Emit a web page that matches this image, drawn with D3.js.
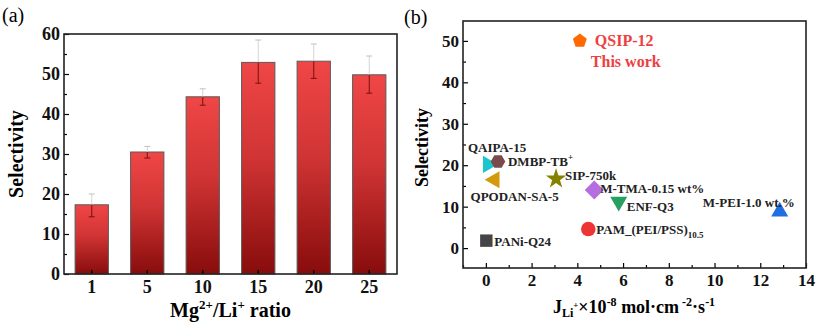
<!DOCTYPE html>
<html>
<head>
<meta charset="utf-8">
<script src="https://cdn.jsdelivr.net/npm/d3@7"></script>
<style>
  body { margin: 0; background: #fff; }
  svg text { font-family: "Liberation Serif", "Times New Roman", serif; }
</style>
</head>
<body>
<div id="chart"></div>
<script>
// ---- data, panel (a)
var ratios = ["1", "5", "10", "15", "20", "25"];
var selectivity = [17.3, 30.5, 44.3, 52.9, 53.2, 49.8];
var errLow = [14.3, 29.0, 42.2, 47.7, 48.9, 45.2];
var errHigh = [20.0, 31.9, 46.3, 58.5, 57.5, 54.5];
var aTicks = [0, 10, 20, 30, 40, 50, 60];

// ---- data, panel (b)
var membranes = ["QSIP-12", "QAIPA-15", "DMBP-TB+", "QPODAN-SA-5", "SIP-750k",
                 "M-TMA-0.15 wt%", "ENF-Q3", "M-PEI-1.0 wt.%", "PAM_(PEI/PSS)10.5", "PANi-Q24"];
var fluxLi = [4.11, 0.09, 0.53, 0.38, 3.07, 4.74, 5.81, 12.85, 4.48, 0.02];
var memSel = [50.0, 20.2, 20.9, 16.5, 16.7, 14.0, 11.2, 8.8, 4.6, 1.8];
var bXTicks = [0, 2, 4, 6, 8, 10, 12, 14];
var bYTicks = [0, 10, 20, 30, 40, 50];

// marker styles and label offsets (layout only)
var markerShape = ["pentagon", "triRight", "hexagon", "triLeft", "star", "diamond", "triDown", "triUp", "circle", "square"];
var markerColor = ["#ff6a00", "#1cc6cc", "#7b4a4a", "#d29a0c", "#858200", "#b46ee0", "#26a060", "#1f6fe0", "#ee3535", "#454545"];
var labelDx = [15, -20, 10, -24, 9, 6, 8, -77, 8, 8];
var labelDy = [5, -12, 5, 21, 1, 3, 9, -5, 5, 5];

var svg = d3.select("#chart").append("svg")
    .attr("width", 818).attr("height", 328);

var defs = svg.append("defs");
var grad = defs.append("linearGradient").attr("id", "barGrad")
    .attr("x1", 0).attr("y1", 0).attr("x2", 0).attr("y2", 1);
grad.append("stop").attr("offset", "0%").attr("stop-color", "#f04646");
grad.append("stop").attr("offset", "45%").attr("stop-color", "#d03434");
grad.append("stop").attr("offset", "100%").attr("stop-color", "#880c0c");

drawPanelA();
drawPanelB();

function drawPanelA()
{
    var L = 64, R = 397, T = 34, B = 274;

    var x = d3.scaleBand().domain(ratios).range([L, R]).padding(0);
    var y = d3.scaleLinear().domain([0, 60]).range([B, T]);
    var bw = x.bandwidth() * 0.6;

    var g = svg.append("g");

    g.selectAll(".bar")
      .data(ratios)
      .enter().append("rect")
      .attr("class", "bar")
      .attr("x", function(d) { return x(d) + (x.bandwidth() - bw) / 2; })
      .attr("y", function(d, i) { return y(selectivity[i]); })
      .attr("width", bw)
      .attr("height", function(d, i) { return B - y(selectivity[i]); })
      .attr("fill", "url(#barGrad)")
      .attr("stroke", "#5a5a5a")
      .attr("stroke-width", 1);

    // error bars: faint above the bar, dark red inside it
    ratios.forEach(function(d, i) {
        var cx = x(d) + x.bandwidth() / 2;
        g.append("line")
          .attr("x1", cx).attr("x2", cx)
          .attr("y1", y(errHigh[i])).attr("y2", y(selectivity[i]))
          .attr("stroke", "#d4d4d4").attr("stroke-width", 1);
        g.append("line")
          .attr("x1", cx).attr("x2", cx)
          .attr("y1", y(selectivity[i])).attr("y2", y(errLow[i]))
          .attr("stroke", "#7a1010").attr("stroke-width", 1);
        g.append("line")
          .attr("x1", cx - 3).attr("x2", cx + 3)
          .attr("y1", y(errHigh[i])).attr("y2", y(errHigh[i]))
          .attr("stroke", "#c0c0c0").attr("stroke-width", 1);
        g.append("line")
          .attr("x1", cx - 3).attr("x2", cx + 3)
          .attr("y1", y(errLow[i])).attr("y2", y(errLow[i]))
          .attr("stroke", "#7a1010").attr("stroke-width", 1);
    });

    // minor y ticks
    g.append("g")
      .attr("transform", "translate(" + L + ",0)")
      .call(d3.axisLeft(y).tickValues([5, 15, 25, 35, 45, 55]).tickSize(-3).tickFormat(""))
      .call(function(s) { s.select(".domain").remove(); s.selectAll("line").attr("stroke-width", 1.2); });

    var ya = g.append("g")
      .attr("transform", "translate(" + L + ",0)")
      .call(d3.axisLeft(y).tickValues(aTicks).tickSize(-5).tickPadding(4));
    ya.select(".domain").remove();
    ya.selectAll("line").attr("stroke-width", 1.2);
    ya.selectAll("text").attr("font-size", 18).attr("font-weight", "bold")
      .attr("font-family", "Liberation Serif").attr("fill", "#111");

    var xa = g.append("g")
      .attr("transform", "translate(0," + B + ")")
      .call(d3.axisBottom(x).tickSize(-4).tickPadding(6));
    xa.select(".domain").remove();
    xa.selectAll("line").attr("stroke-width", 1.5);
    xa.selectAll("text").attr("font-size", 18).attr("font-weight", "bold")
      .attr("font-family", "Liberation Serif").attr("fill", "#111");

    g.append("rect")
      .attr("x", L).attr("y", T).attr("width", R - L).attr("height", B - T)
      .attr("fill", "none").attr("stroke", "#222").attr("stroke-width", 1.6);

    g.append("text")
      .attr("transform", "translate(23," + ((T + B) / 2) + ") rotate(-90)")
      .attr("text-anchor", "middle")
      .attr("font-size", 20).attr("font-weight", "bold")
      .text("Selectivity");

    var xt = g.append("text")
      .attr("x", (L + R) / 2).attr("y", 317)
      .attr("text-anchor", "middle")
      .attr("font-size", 20).attr("font-weight", "bold");
    xt.append("tspan").text("Mg");
    xt.append("tspan").attr("dy", -8).attr("font-size", 13).text("2+");
    xt.append("tspan").attr("dy", 8).text("/Li");
    xt.append("tspan").attr("dy", -8).attr("font-size", 13).text("+");
    xt.append("tspan").attr("dy", 8).text(" ratio");

    svg.append("text").attr("x", 2).attr("y", 22)
      .attr("font-size", 20).text("(a)");
}

function shapePath(type, r)
{
    var pts = [], i, a;
    if (type === "circle") return d3.symbol(d3.symbolCircle, Math.PI * r * r)();
    if (type === "star") return d3.symbol(d3.symbolStar, r * r * 2.4)();
    if (type === "square") {
        return "M" + (-r * 0.85) + "," + (-r * 0.85) + "h" + (1.7 * r) + "v" + (1.7 * r) + "h" + (-1.7 * r) + "Z";
    }
    var n = 0, start = 0, rad = r;
    if (type === "pentagon") { n = 5; start = -Math.PI / 2; }
    if (type === "hexagon") { n = 6; start = 0; }
    if (type === "diamond") { n = 4; start = -Math.PI / 2; rad = r * 1.3; }
    if (type === "triUp") { n = 3; start = -Math.PI / 2; rad = r * 1.35; }
    if (type === "triDown") { n = 3; start = Math.PI / 2; rad = r * 1.35; }
    if (type === "triLeft") { n = 3; start = Math.PI; rad = r * 1.35; }
    if (type === "triRight") { n = 3; start = 0; rad = r * 1.35; }
    for (i = 0; i < n; i++) {
        a = start + i * 2 * Math.PI / n;
        pts.push([rad * Math.cos(a), rad * Math.sin(a)]);
    }
    return "M" + pts.map(function(p) { return p[0].toFixed(2) + "," + p[1].toFixed(2); }).join("L") + "Z";
}

function drawPanelB()
{
    var L = 463, R = 806, T = 21, B = 268;

    var x = d3.scaleLinear().domain([-1, 14]).range([L, R]);
    var y = d3.scaleLinear().domain([-4.8, 54.8]).range([B, T]);

    var g = svg.append("g");

    g.append("g")
      .attr("transform", "translate(0," + B + ")")
      .call(d3.axisBottom(x).tickValues(d3.range(-1, 14, 2)).tickSize(-3).tickFormat(""))
      .call(function(s) { s.select(".domain").remove(); s.selectAll("line").attr("stroke-width", 1.2); });

    var xa = g.append("g")
      .attr("transform", "translate(0," + B + ")")
      .call(d3.axisBottom(x).tickValues(bXTicks).tickSize(-5).tickPadding(6));
    xa.select(".domain").remove();
    xa.selectAll("line").attr("stroke-width", 1.2);
    xa.selectAll("text").attr("font-size", 17).attr("font-weight", "bold")
      .attr("font-family", "Liberation Serif").attr("fill", "#111");

    g.append("g")
      .attr("transform", "translate(" + L + ",0)")
      .call(d3.axisLeft(y).tickValues([5, 15, 25, 35, 45]).tickSize(-3).tickFormat(""))
      .call(function(s) { s.select(".domain").remove(); s.selectAll("line").attr("stroke-width", 1.2); });

    var ya = g.append("g")
      .attr("transform", "translate(" + L + ",0)")
      .call(d3.axisLeft(y).tickValues(bYTicks).tickSize(-5).tickPadding(4));
    ya.select(".domain").remove();
    ya.selectAll("line").attr("stroke-width", 1.2);
    ya.selectAll("text").attr("font-size", 17).attr("font-weight", "bold")
      .attr("font-family", "Liberation Serif").attr("fill", "#111");

    g.append("rect")
      .attr("x", L).attr("y", T).attr("width", R - L).attr("height", B - T)
      .attr("fill", "none").attr("stroke", "#222").attr("stroke-width", 1.6);

    g.selectAll(".pt")
      .data(membranes)
      .enter().append("path")
      .attr("class", "pt")
      .attr("transform", function(d, i) { return "translate(" + x(fluxLi[i]) + "," + y(memSel[i]) + ")"; })
      .attr("d", function(d, i) { return shapePath(markerShape[i], 7.3); })
      .attr("fill", function(d, i) { return markerColor[i]; });

    membranes.forEach(function(d, i) {
        var px = x(fluxLi[i]) + labelDx[i], py = y(memSel[i]) + labelDy[i];
        var t = g.append("text").attr("x", px).attr("y", py)
          .attr("font-size", 13).attr("font-weight", "bold").attr("fill", "#222");
        if (i === 0) {
            t.attr("font-size", 16).attr("fill", "#ee4040").text(d);
            g.append("text").attr("x", px - 4).attr("y", py + 21)
              .attr("font-size", 16).attr("font-weight", "bold").attr("fill", "#ee4040")
              .text("This work");
        } else if (d === "DMBP-TB+") {
            t.append("tspan").text("DMBP-TB");
            t.append("tspan").attr("dy", -6).attr("font-size", 9).text("+");
        } else if (d === "PAM_(PEI/PSS)10.5") {
            t.append("tspan").text("PAM_(PEI/PSS)");
            t.append("tspan").attr("dy", 4).attr("font-size", 9).text("10.5");
        } else {
            t.text(d);
        }
    });

    g.append("text")
      .attr("transform", "translate(428," + ((T + B) / 2 + 3) + ") rotate(-90)")
      .attr("text-anchor", "middle")
      .attr("font-size", 18).attr("font-weight", "bold")
      .text("Selectivity");

    var xt = g.append("text")
      .attr("x", 634).attr("y", 313)
      .attr("text-anchor", "middle")
      .attr("font-size", 18).attr("font-weight", "bold");
    xt.append("tspan").text("J");
    xt.append("tspan").attr("dy", 4).attr("font-size", 12).text("Li");
    xt.append("tspan").attr("dy", -9).attr("font-size", 9).text("+");
    xt.append("tspan").attr("dy", 5).text("×10");
    xt.append("tspan").attr("dy", -7).attr("font-size", 12).text("-8");
    xt.append("tspan").attr("dy", 7).text(" mol·cm");
    xt.append("tspan").attr("dy", -7).attr("font-size", 12).text(" -2");
    xt.append("tspan").attr("dy", 7).text("·s");
    xt.append("tspan").attr("dy", -7).attr("font-size", 12).text("-1");

    svg.append("text").attr("x", 404).attr("y", 24)
      .attr("font-size", 20).text("(b)");
}
</script>
</body>
</html>
